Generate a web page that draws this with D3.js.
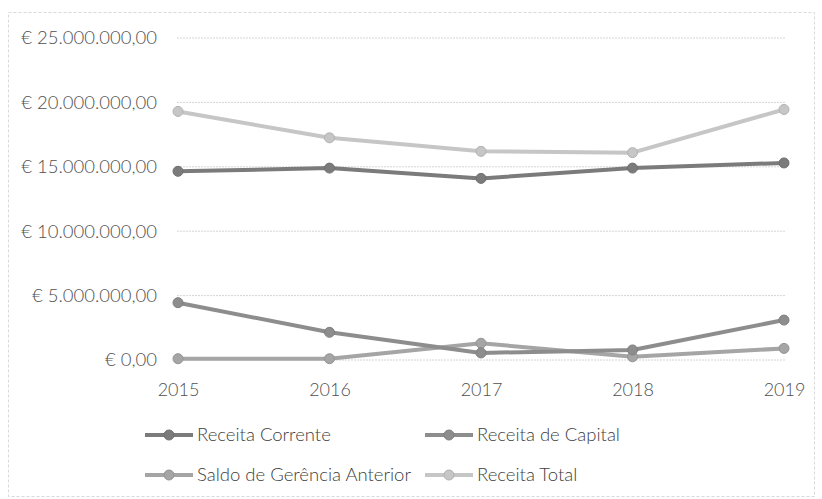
<!DOCTYPE html>
<html><head><meta charset="utf-8">
<script src="https://cdn.jsdelivr.net/npm/d3@7"></script>
<style>body{margin:0;background:#fff}svg{display:block}text{font-family:Lato,"Open Sans",sans-serif}</style>
</head><body>
<script>
const years = ["2015","2016","2017","2018","2019"];
const seriesNames = ["Receita Corrente","Receita de Capital","Saldo de Gerência Anterior","Receita Total"];
const receitaCorrente = [14650000,14900000,14100000,14900000,15300000];
const receitaCapital = [4450000,2150000,550000,780000,3100000];
const saldoGerencia = [100000,100000,1300000,250000,900000];
const receitaTotal = [19300000,17250000,16200000,16100000,19450000];
const yTicks = [0,5000000,10000000,15000000,20000000,25000000];

const W=822,H=499;
const colors=["#7b7b7b","#8d8d8d","#a5a5a5","#c6c6c6"];
const data=[receitaCorrente,receitaCapital,saldoGerencia,receitaTotal];

const svg=d3.select("body").append("svg").attr("width",W).attr("height",H);
svg.append("rect").attr("x",8.5).attr("y",12.5).attr("width",806).attr("height",484)
  .attr("fill","#fff").attr("stroke","#d9d9d9").attr("stroke-dasharray","3,2");

const x=d3.scalePoint().domain(years).range([178,784]);
const y=d3.scaleLinear().domain([0,25000000]).range([360,38]);

const fmt=v=>"€ "+d3.format(",.2f")(v).replace(/,/g,"#").replace(/\./g,",").replace(/#/g,".");

// gridlines
svg.append("g").selectAll("line").data(yTicks).join("line")
  .attr("x1",177).attr("x2",785).attr("y1",d=>y(d)).attr("y2",d=>y(d))
  .attr("stroke","#d4d4d4").attr("stroke-width",1).attr("stroke-dasharray","2,1");

// y axis labels
const yAxis=d3.axisLeft(y).tickValues(yTicks).tickFormat(fmt).tickSize(0).tickPadding(0);
const gy=svg.append("g").attr("transform","translate(157,0)").call(yAxis);
gy.select(".domain").remove();
gy.selectAll("text").attr("font-size",18.5).attr("fill","#505050").attr("font-family","Lato,sans-serif").attr("font-weight",300);

// x axis labels
const xAxis=d3.axisBottom(x).tickSize(0).tickPadding(0);
const gx=svg.append("g").attr("transform","translate(0,383)").call(xAxis);
gx.select(".domain").remove();
gx.selectAll("text").attr("font-size",18).attr("fill","#505050").attr("font-family","Lato,sans-serif").attr("font-weight",300);

// lines
const line=d3.line().x((d,i)=>x(years[i])).y(d=>y(d));
const order=[3,2,1,0];
order.forEach(s=>{
  const g=svg.append("g");
  g.append("path").datum(data[s]).attr("d",line).attr("fill","none")
    .attr("stroke",colors[s]).attr("stroke-width",4).attr("stroke-linejoin","round");
  g.selectAll("circle").data(data[s]).join("circle")
    .attr("cx",(d,i)=>x(years[i])).attr("cy",d=>y(d)).attr("r",5)
    .attr("fill",colors[s]).attr("stroke",d3.color(colors[s]).darker(0.3)).attr("stroke-width",1);
});

// legend
const legPos=[[145,435],[425,435],[145,475],[425,475]];
seriesNames.forEach((n,s)=>{
  const [lx,ly]=legPos[s];
  const g=svg.append("g");
  g.append("line").attr("x1",lx).attr("x2",lx+48).attr("y1",ly).attr("y2",ly)
    .attr("stroke",colors[s]).attr("stroke-width",4);
  g.append("circle").attr("cx",lx+24).attr("cy",ly).attr("r",5)
    .attr("fill",colors[s]).attr("stroke",d3.color(colors[s]).darker(0.3));
  g.append("text").attr("x",lx+52).attr("y",ly).attr("dy","0.35em")
    .attr("font-size",18.5).attr("font-weight",300).attr("fill","#404040").text(n);
});
</script>
</body></html>
